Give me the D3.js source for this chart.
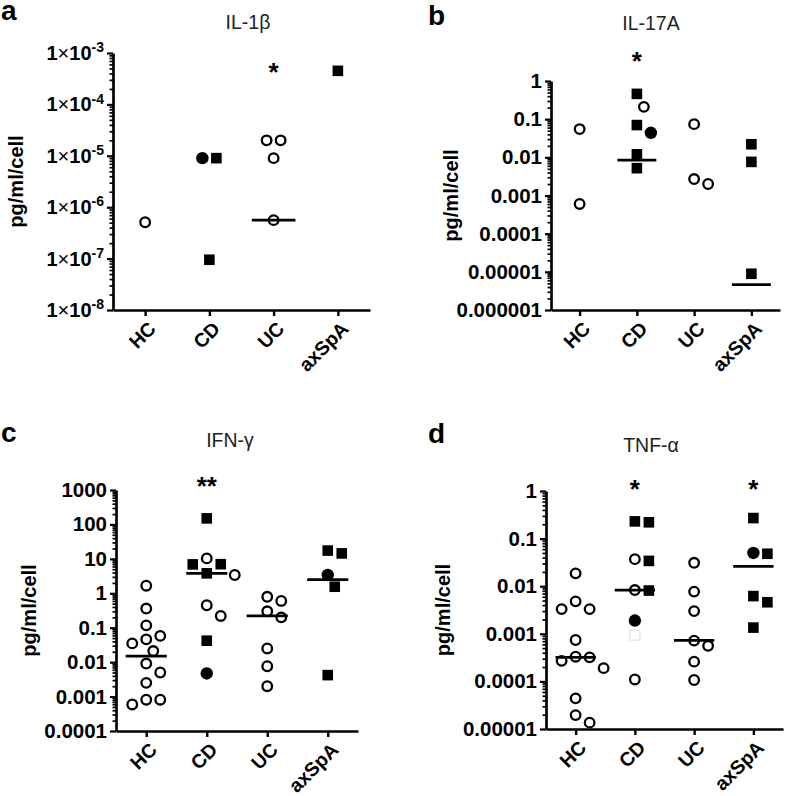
<!DOCTYPE html>
<html>
<head>
<meta charset="utf-8">
<script src="https://cdn.jsdelivr.net/npm/d3@7/dist/d3.min.js"></script>
<style>
  html, body { margin: 0; padding: 0; background: #fff; }
  svg { display: block; }
  text { font-family: "Liberation Sans", Arial, Helvetica, sans-serif; }
</style>
</head>
<body>
<svg id="chart" width="787" height="796"></svg>
<script>
// ---------------- DATA ----------------
const categories = ["HC", "CD", "UC", "axSpA"];
// marker codes: o = open circle, c = filled circle, s = filled square, g = faint (grey) square

// a: IL-1β
const il1bValues  = [[5.1e-7], [9e-6, 9e-6, 9.5e-8], [2e-5, 2e-5, 9e-6, 5.6e-7], [4.5e-4]];
const il1bMarkers = ["o", "css", "oooo", "s"];
const il1bMedians = [null, null, 5.6e-7, null];
const il1bStars   = ["", "", "*", ""];
const il1bTickExponents = [-3, -4, -5, -6, -7, -8];

// b: IL-17A
const il17Values  = [[0.055, 0.0006], [0.46, 0.21, 0.07, 0.044, 0.012, 0.0052], [0.074, 0.0027, 0.002], [0.022, 0.0076, 0.0000089]];
const il17Markers = ["oo", "soscss", "ooo", "sss"];
const il17Medians = [null, 0.0085, null, 0.0000046];
const il17Stars   = ["", "*", "", ""];
const il17TickLabels = ["1", "0.1", "0.01", "0.001", "0.0001", "0.00001", "0.000001"];

// c: IFN-γ
const ifnValues  = [
  [1.66, 0.36, 0.117, 0.058, 0.046, 0.035, 0.021, 0.0091, 0.005, 0.0025, 0.00081, 0.00081, 0.00059],
  [150, 10.3, 7, 6.9, 3.8, 3.4, 0.45, 0.22, 0.042, 0.0047],
  [0.79, 0.6, 0.3, 0.2, 0.025, 0.0076, 0.002],
  [17.4, 14.4, 3.4, 1.55, 0.0042]
];
const ifnMarkers = ["ooooooooooooo", "sosssooosc", "ooooooo", "sscss"];
const ifnMedians = [0.015, 3.8, 0.22, 2.5];
const ifnStars   = ["", "**", "", ""];
const ifnTickLabels = ["1000", "100", "10", "1", "0.1", "0.01", "0.001", "0.0001"];

// d: TNF-α
const tnfValues = [
  [0.0186, 0.0048, 0.0033, 0.0033, 0.00074, 0.00033, 0.00032, 0.00027, 0.00019, 0.000044, 0.0000196, 0.0000136],
  [0.23, 0.22, 0.037, 0.034, 0.0083, 0.0081, 0.0019, 0.00094, 0.00011],
  [0.031, 0.0077, 0.003, 0.00072, 0.00056, 0.00026, 0.000107],
  [0.27, 0.05, 0.048, 0.0062, 0.0046, 0.00135]
];
const tnfMarkers = ["oooooooooooo", "ssososcgo", "ooooooo", "scssss"];
const tnfMedians = [0.00032, 0.0083, 0.00073, 0.026];
const tnfStars   = ["", "*", "", "*"];
const tnfTickLabels = ["1", "0.1", "0.01", "0.001", "0.0001", "0.00001"];

// ---------------- LAYOUT ----------------
const panels = [
  { letter: "a", lx: 1,   ly: 20,  title: "IL-1β",  tx: 248, ty: 29,
    x0: 113, x1: 370, yTop: 53,  yBot: 310, domain: [1e-8, 1e-3],
    values: il1bValues, markers: il1bMarkers, medians: il1bMedians, stars: il1bStars,
    starY: 68, ytx: 23, sci: true, labels: il1bTickExponents },
  { letter: "b", lx: 428, ly: 25,  title: "IL-17A", tx: 651, ty: 30,
    x0: 551, x1: 780, yTop: 81,  yBot: 310, domain: [1e-6, 1],
    values: il17Values, markers: il17Markers, medians: il17Medians, stars: il17Stars,
    starY: 57, ytx: 458, sci: false, labels: il17TickLabels },
  { letter: "c", lx: 1,   ly: 442, title: "IFN-γ",  tx: 230, ty: 447,
    x0: 116, x1: 358, yTop: 490, yBot: 731, domain: [1e-4, 1000],
    values: ifnValues, markers: ifnMarkers, medians: ifnMedians, stars: ifnStars,
    starY: 482, ytx: 36, sci: false, labels: ifnTickLabels },
  { letter: "d", lx: 428, ly: 443, title: "TNF-α",  tx: 651, ty: 452,
    x0: 546, x1: 783, yTop: 491, yBot: 729, domain: [1e-5, 1],
    values: tnfValues, markers: tnfMarkers, medians: tnfMedians, stars: tnfStars,
    starY: 485, ytx: 450, sci: false, labels: tnfTickLabels }
];

const svg = d3.select("#chart");
const TICK_FONT = 20.5, TITLE_FONT = 19.5;

function others(placed, a, b) { return placed.filter(p => p !== a && p !== b); }
function hits(list, off, py, minDist) {
  return list.some(p => (p.off - off) ** 2 + (p.py - py) ** 2 < minDist * minDist);
}

function dodge(items, y, step, minDist) {
  const placed = [];
  const order = items.map((d, i) => i).sort((a, b) => items[b].v - items[a].v);
  const ks = [0, 1, -1, 2, -2, 3, -3, 4, -4, 5, -5];
  order.forEach(i => {
    const py = y(items[i].v);
    for (const k of ks) {
      const off = k * step;
      if (!hits(placed, off, py, minDist)) {
        items[i].off = off; items[i].py = py; placed.push(items[i]); break;
      }
    }
  });
  // centre pairs of equal values symmetrically when possible
  items.forEach((a, i) => items.forEach((b, j) => {
    if (j <= i || a.v !== b.v) return;
    const mid = (a.off + b.off) / 2;
    const na = a.off - mid, nb = b.off - mid;
    const rest = others(placed, a, b);
    if (!hits(rest, na, a.py, minDist) && !hits(rest, nb, b.py, minDist)) {
      a.off = na; b.off = nb;
    }
  }));
  return items;
}

panels.forEach(P => {
  const g = svg.append("g");
  const y = d3.scaleLog().domain(P.domain).range([P.yBot, P.yTop]);
  const x = d3.scalePoint().domain(categories).range([P.x0, P.x1]).padding(0.5);

  // letter & title
  g.append("text").attr("x", P.lx).attr("y", P.ly).attr("font-size", 28).attr("font-weight", "bold")
    .attr("fill", "#000").text(P.letter);
  g.append("text").attr("x", P.tx).attr("y", P.ty).attr("text-anchor", "middle")
    .attr("font-size", TITLE_FONT).attr("fill", "#222").text(P.title);

  // y axis title
  g.append("text")
    .attr("transform", `translate(${P.ytx},${(P.yTop + P.yBot) / 2}) rotate(-90)`)
    .attr("text-anchor", "middle").attr("font-size", 20).attr("font-weight", "bold")
    .text("pg/ml/cell");

  // ticks
  const lo = Math.log10(P.domain[0]), hi = Math.log10(P.domain[1]);
  const majors = d3.range(lo, hi + 1).map(e => Math.pow(10, e));
  const minors = [];
  for (let e = lo; e < hi; e++) for (let m = 2; m <= 9; m++) minors.push(m * Math.pow(10, e));

  const minorAxis = g.append("g").attr("transform", `translate(${P.x0},0)`)
    .call(d3.axisLeft(y).tickValues(minors).tickSize(3.5).tickSizeOuter(0).tickFormat(""));
  minorAxis.select(".domain").remove();
  minorAxis.selectAll(".tick line").attr("stroke", "#000").attr("stroke-width", 1.7);

  const majorLabels = majors.slice().reverse();
  const yAxis = g.append("g").attr("transform", `translate(${P.x0},0)`)
    .call(d3.axisLeft(y).tickValues(majors).tickSize(6).tickSizeOuter(0).tickPadding(3)
      .tickFormat(v => P.sci ? "" : P.labels[majorLabels.indexOf(v)]));
  yAxis.select(".domain").attr("stroke", "#000").attr("stroke-width", 2.7);
  yAxis.selectAll(".tick line").attr("stroke", "#000").attr("stroke-width", 2.2);
  yAxis.selectAll(".tick text").attr("font-size", TICK_FONT).attr("font-weight", "bold")
    .attr("fill", "#000").attr("font-family", "Liberation Sans, Arial, sans-serif");
  if (P.sci) {
    yAxis.selectAll(".tick text").each(function (v) {
      const t = d3.select(this);
      const exp = P.labels[majorLabels.indexOf(v)];
      t.text(null).attr("font-size", 20);
      t.append("tspan").text("1");
      t.append("tspan").attr("font-weight", "normal").text("×");
      t.append("tspan").text("10");
      t.append("tspan").attr("font-size", 14).attr("dy", "-0.55em").text(String(exp));
    });
  }

  // x axis
  const xAxis = g.append("g").attr("transform", `translate(0,${P.yBot})`)
    .call(d3.axisBottom(x).tickSize(6).tickSizeOuter(0).tickFormat(""));
  xAxis.select(".domain").attr("stroke", "#000").attr("stroke-width", 2.7);
  xAxis.selectAll(".tick line").attr("stroke", "#000").attr("stroke-width", 2.4);
  categories.forEach(c => {
    g.append("text")
      .attr("transform", `translate(${x(c) + 2},${P.yBot + 10}) rotate(-45)`)
      .attr("text-anchor", "end").attr("dy", "0.72em")
      .attr("font-size", 19.5).attr("font-weight", "bold").text(c);
  });

  // points
  const step = x.step();
  categories.forEach((c, ci) => {
    const items = P.values[ci].map((v, i) => ({ v, m: P.markers[ci][i] }));
    dodge(items, y, 7, 13.5);
    items.forEach(d => {
      const cx = x(c) + d.off, cy = y(d.v);
      if (d.m === "o") {
        g.append("circle").attr("cx", cx).attr("cy", cy).attr("r", 4.8)
          .attr("fill", "#fff").attr("stroke", "#000").attr("stroke-width", 2.3);
      } else if (d.m === "c") {
        g.append("circle").attr("cx", cx).attr("cy", cy).attr("r", 6.2).attr("fill", "#000");
      } else if (d.m === "s") {
        g.append("rect").attr("x", cx - 5.3).attr("y", cy - 5.3).attr("width", 10.6).attr("height", 10.6).attr("fill", "#000");
      } else if (d.m === "g") {
        g.append("rect").attr("x", cx - 5).attr("y", cy - 5).attr("width", 10).attr("height", 10)
          .attr("fill", "#fff").attr("stroke", "#e2e2e2").attr("stroke-width", 1.2);
      }
    });
    // median line
    if (P.medians[ci] != null) {
      const hw = step * 0.34;
      g.append("line").attr("x1", x(c) - hw).attr("x2", x(c) + hw)
        .attr("y1", y(P.medians[ci])).attr("y2", y(P.medians[ci]))
        .attr("stroke", "#000").attr("stroke-width", 2.7);
    }
    // significance stars
    if (P.stars[ci]) {
      g.append("text").attr("x", x(c)).attr("y", P.starY + 13).attr("text-anchor", "middle")
        .attr("font-size", 26).attr("font-weight", "bold").text(P.stars[ci]);
    }
  });
});
</script>
</body>
</html>
